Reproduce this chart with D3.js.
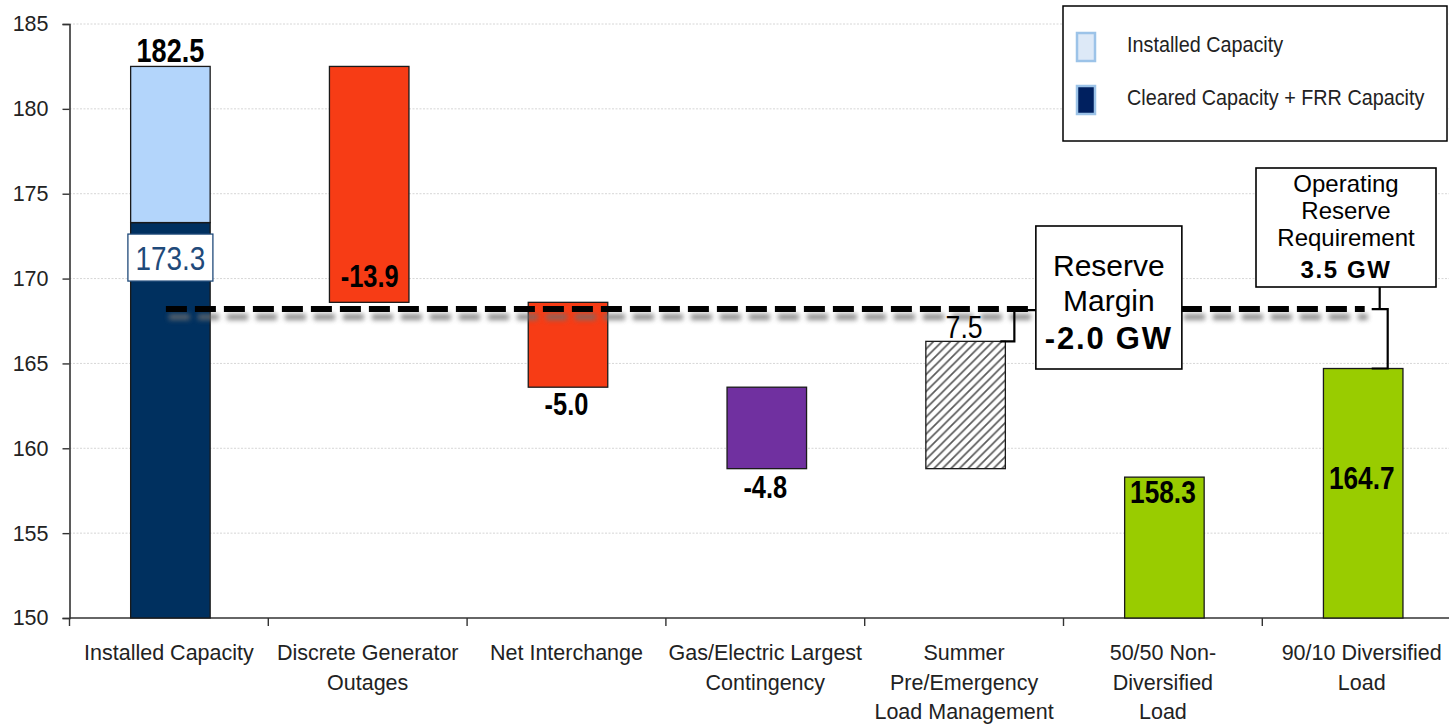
<!DOCTYPE html>
<html>
<head>
<meta charset="utf-8">
<script src="https://cdn.jsdelivr.net/npm/d3@7/dist/d3.min.js"></script>
<style>
  html, body { margin: 0; padding: 0; background: #fff; }
  svg { display: block; font-family: "Liberation Sans", Arial, sans-serif; }
</style>
</head>
<body>
<svg id="chart" width="1449" height="726"></svg>
<script>
// Capacity waterfall: installed capacity down to the load forecast
const categoryLines = [
  ["Installed Capacity"],
  ["Discrete Generator", "Outages"],
  ["Net Interchange"],
  ["Gas/Electric Largest", "Contingency"],
  ["Summer", "Pre/Emergency", "Load Management"],
  ["50/50 Non-", "Diversified", "Load"],
  ["90/10 Diversified", "Load"]
];
const categories = categoryLines.map(l => l.join(" "));

const installedCapacity = 182.5;
const clearedCapacity = 173.3;
// Step changes applied after installed capacity (outages, interchange, contingency, load management)
const adjustments = [-13.9, -5.0, -4.8, 7.5];
// Load forecasts
const loadForecasts = [158.3, 164.7];
const operatingReserve = 3.5;
const reserveMarginText = "-2.0 GW";
const operatingReserveText = "3.5 GW";

const yTicks = [150, 155, 160, 165, 170, 175, 180, 185];
const legendItems = ["Installed Capacity", "Cleared Capacity + FRR Capacity"];

const colors = {
  installed: "#b3d5fb",
  cleared: "#00305f",
  outage: "#f73c15",
  contingency: "#7030a0",
  load: "#99cc00",
  labelBlue: "#1f4a7a"
};

const svg = d3.select("#chart");
const W = 1449, H = 726;
const plotLeft = 69.5, plotBottom = 618, plotTop = 24;
const step = 198.8;

const x = d3.scaleBand()
  .domain(categories)
  .range([plotLeft, plotLeft + step * categories.length])
  .paddingInner(0.6)
  .paddingOuter(0.3);
const y = d3.scaleLinear().domain([150, 185]).range([plotBottom, plotTop]);
const bw = x.bandwidth();
const cx = i => x(categories[i]) + bw / 2;

const defs = svg.append("defs");
const hatch = defs.append("pattern")
  .attr("id", "hatch").attr("patternUnits", "userSpaceOnUse")
  .attr("width", 8.5).attr("height", 8.5);
hatch.append("rect").attr("width", 8.5).attr("height", 8.5).attr("fill", "#fff");
hatch.append("path")
  .attr("d", "M-2.125,2.125 l4.25,-4.25 M0,8.5 l8.5,-8.5 M6.375,10.625 l4.25,-4.25")
  .attr("stroke", "#5a5a5a").attr("stroke-width", 1.7);

// Blur for the line shadow (user-space region, since the line has zero height)
const blur = defs.append("filter").attr("id", "soft")
  .attr("filterUnits", "userSpaceOnUse")
  .attr("x", 0).attr("y", 0).attr("width", W).attr("height", H);
blur.append("feGaussianBlur").attr("stdDeviation", 2.4);

svg.append("rect").attr("width", W).attr("height", H).attr("fill", "#fff");

// Gridlines
svg.append("g").selectAll("line").data(yTicks.slice(1)).join("line")
  .attr("x1", plotLeft).attr("x2", W).attr("y1", d => y(d)).attr("y2", d => y(d))
  .attr("stroke", "#d6d6d6").attr("stroke-width", 1).attr("stroke-dasharray", "2,1.5");

// Y axis
const yAxis = svg.append("g").attr("transform", `translate(${plotLeft},0)`)
  .call(d3.axisLeft(y).tickValues(yTicks).tickSize(7).tickPadding(14).tickFormat(d3.format("d")));
yAxis.select(".domain").attr("stroke", "#333").attr("stroke-width", 1.6);
yAxis.selectAll(".tick line").attr("stroke", "#333").attr("stroke-width", 1.4);
yAxis.selectAll(".tick text").attr("font-size", 21.5).attr("fill", "#222")
  .attr("font-family", "'Liberation Sans', Arial, sans-serif");

// X axis with ticks on category boundaries
const xg = svg.append("g").attr("transform", `translate(0,${plotBottom})`);
xg.append("line").attr("x1", plotLeft).attr("x2", W).attr("stroke", "#333").attr("stroke-width", 1.6);
xg.selectAll("line.tk").data(d3.range(categories.length + 1)).join("line").attr("class", "tk")
  .attr("x1", i => plotLeft + i * step).attr("x2", i => plotLeft + i * step)
  .attr("y1", 0).attr("y2", 8).attr("stroke", "#333").attr("stroke-width", 1.4);
categoryLines.forEach((lines, i) => {
  const t = xg.append("text").attr("text-anchor", "middle").attr("font-size", 21.5).attr("fill", "#222");
  lines.forEach((ln, k) => {
    t.append("tspan").attr("x", cx(i)).attr("y", 42 + k * 29.5).text(ln);
  });
});

// Build waterfall segments
const running = [installedCapacity];
adjustments.forEach(a => running.push(+(running[running.length - 1] + a).toFixed(1)));

const bars = [];
bars.push({ i: 0, y0: 150, y1: clearedCapacity, fill: colors.cleared });
bars.push({ i: 0, y0: clearedCapacity, y1: installedCapacity, fill: colors.installed });
const stepFills = [colors.outage, colors.outage, colors.contingency, "url(#hatch)"];
adjustments.forEach((a, k) => {
  bars.push({ i: k + 1, y0: Math.min(running[k], running[k + 1]), y1: Math.max(running[k], running[k + 1]), fill: stepFills[k] });
});
loadForecasts.forEach((v, k) => bars.push({ i: 5 + k, y0: 150, y1: v, fill: colors.load }));

svg.append("g").selectAll("rect").data(bars).join("rect")
  .attr("x", d => x(categories[d.i]) + 1.5)
  .attr("width", bw)
  .attr("y", d => y(d.y1))
  .attr("height", d => y(d.y0) - y(d.y1))
  .attr("fill", d => d.fill)
  .attr("stroke", "#1a1a1a").attr("stroke-width", 1.3);

// Requirement line: peak load plus operating reserve, with a soft drop shadow
const requirement = loadForecasts[1] + operatingReserve;
const ry = y(requirement);
const lx0 = cx(0) - 3, lx1 = cx(6) + 3;
svg.append("line")
  .attr("x1", lx0 + 3).attr("x2", lx1 + 3).attr("y1", ry + 8).attr("y2", ry + 8)
  .attr("stroke", "#6e6e6e").attr("stroke-width", 6).attr("stroke-dasharray", "21,8")
  .attr("opacity", 0.8).attr("filter", "url(#soft)");
svg.append("line")
  .attr("x1", lx0).attr("x2", lx1).attr("y1", ry).attr("y2", ry)
  .attr("stroke", "#000").attr("stroke-width", 6).attr("stroke-dasharray", "21,8");

// Narrow value labels
function narrowLabel(text, px, py, opts = {}) {
  const g = svg.append("g").attr("transform", `translate(${px},${py}) scale(${opts.sx || 0.82},1)`);
  g.append("text").attr("text-anchor", "middle")
    .attr("font-size", opts.size || 32)
    .attr("font-weight", opts.weight || "bold")
    .attr("fill", opts.fill || "#000")
    .text(text);
  return g;
}

narrowLabel(installedCapacity.toFixed(1), cx(0) + 1.5, y(installedCapacity) - 4, { size: 33 });

// Cleared capacity callout
const bx = cx(0) - 41, by = y(clearedCapacity) + 11.5;
svg.append("rect").attr("x", bx).attr("y", by).attr("width", 85).attr("height", 47)
  .attr("fill", "#fff").attr("stroke", colors.labelBlue).attr("stroke-width", 1.3);
narrowLabel(clearedCapacity.toFixed(1), cx(0) + 1.5, by + 36, { size: 34, weight: "normal", fill: colors.labelBlue, sx: 0.82 });

narrowLabel(adjustments[0].toFixed(1), cx(1) + 2, y(running[1]) - 15, { size: 31 });
narrowLabel(adjustments[1].toFixed(1), cx(2), y(running[2]) + 28, { size: 31 });
narrowLabel(adjustments[2].toFixed(1), cx(3), y(running[3]) + 29, { size: 31 });
narrowLabel(adjustments[3].toFixed(1), cx(4), y(running[4]) - 3, { size: 31, weight: "normal", sx: 0.86 });
narrowLabel(loadForecasts[0].toFixed(1), cx(5), y(loadForecasts[0]) + 26, { size: 32 });
narrowLabel(loadForecasts[1].toFixed(1), cx(6), (y(loadForecasts[1]) + y(150)) / 2 - 4, { size: 32 });

// Reserve margin bracket and box
const rmLeft = x(categories[4]) + bw + 32;
const barRight = x(categories[4]) + bw + 1.5;
svg.append("path")
  .attr("d", `M${barRight - 5},${y(running[4])} H${barRight + 9} V${ry + 1} H${rmLeft}`)
  .attr("fill", "none").attr("stroke", "#000").attr("stroke-width", 2.2);
svg.append("rect").attr("x", rmLeft).attr("y", 226).attr("width", 146).attr("height", 143)
  .attr("fill", "#fff").attr("stroke", "#000").attr("stroke-width", 1.6);
const rmT = svg.append("text").attr("text-anchor", "middle");
rmT.append("tspan").attr("x", rmLeft + 73).attr("y", 276).attr("font-size", 30).text("Reserve");
rmT.append("tspan").attr("x", rmLeft + 73).attr("y", 311).attr("font-size", 30).text("Margin");
rmT.append("tspan").attr("x", rmLeft + 73).attr("y", 349).attr("font-size", 31)
  .attr("font-weight", "bold").attr("letter-spacing", 1.8).text(reserveMarginText);

// Operating reserve requirement bracket and box
const orX = cx(6) + 18, orR = cx(6) + 26;
svg.append("path")
  .attr("d", `M${orX},287 V${ry} M${orR - 16},${ry} H${orR} V${y(loadForecasts[1])} H${orR - 16}`)
  .attr("fill", "none").attr("stroke", "#000").attr("stroke-width", 2.2);
svg.append("rect").attr("x", 1256).attr("y", 168).attr("width", 180).attr("height", 119)
  .attr("fill", "#fff").attr("stroke", "#000").attr("stroke-width", 1.6);
const orT = svg.append("text").attr("text-anchor", "middle").attr("font-size", 24);
["Operating", "Reserve", "Requirement"].forEach((s, k) => {
  orT.append("tspan").attr("x", 1346).attr("y", 192 + k * 27).text(s);
});
orT.append("tspan").attr("x", 1346).attr("y", 278).attr("font-weight", "bold")
  .attr("letter-spacing", 1.6).text(operatingReserveText);

// Legend
const lg = svg.append("g");
lg.append("rect").attr("x", 1063).attr("y", 6).attr("width", 384).attr("height", 135)
  .attr("fill", "#fff").attr("stroke", "#000").attr("stroke-width", 1.5);
const swFill = ["#dde9f7", "#00205f"];
legendItems.forEach((s, k) => {
  const sy = 33 + k * 53;
  lg.append("rect").attr("x", 1077).attr("y", sy).attr("width", 18).attr("height", 28)
    .attr("fill", swFill[k]).attr("stroke", "#9cc3e8").attr("stroke-width", 2.5);
  lg.append("g").attr("transform", `translate(1127,${sy + 19}) scale(0.9,1)`)
    .append("text").attr("font-size", 22).attr("fill", "#222").text(s);
});
</script>
</body>
</html>
